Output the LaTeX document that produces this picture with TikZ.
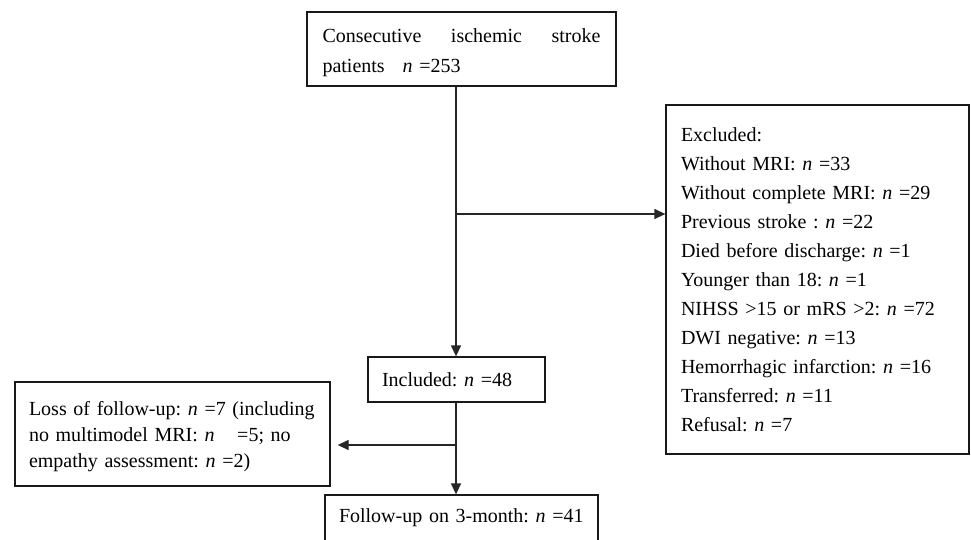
\documentclass[tikz,border=0pt]{standalone}
\usepackage{fontspec}
\setmainfont{Liberation Serif}
\usetikzlibrary{arrows.meta}
\frenchspacing
\hyphenpenalty=10000\relax
\exhyphenpenalty=10000\relax
\begin{document}
\begin{tikzpicture}[x=1pt,y=-1pt,
  box/.style={draw=black!90, line width=1.3pt, rectangle, inner xsep=0pt, inner ysep=0pt,
    font=\fontsize{20}{29}\selectfont, align=left},
  conn/.style={draw=black!85, line width=1.3pt},
  arr/.style={conn, -{Triangle[length=11pt,width=10pt]}}]
\useasboundingbox (0,0) rectangle (971,540);

\node[box, text width=278pt, minimum width=309pt, minimum height=74pt,
      font=\fontsize{20}{30}\selectfont] (top) at (461.5,49)
  {\rule{0pt}{22pt}Consecutive\hfill ischemic\hfill stroke\\patients\hspace{0.9em}\textit{n} =253};

\node[box, text width=273pt, minimum width=303pt, minimum height=349pt] (excl) at (817.5,279.5)
  {Excluded:\\
   Without MRI: \textit{n} =33\\
   Without complete MRI: \textit{n} =29\\
   Previous stroke : \textit{n} =22\\
   Died before discharge: \textit{n} =1\\
   Younger than 18: \textit{n} =1\\
   NIHSS >15 or mRS >2: \textit{n} =72\\
   DWI negative: \textit{n} =13\\
   Hemorrhagic infarction: \textit{n} =16\\
   Transferred: \textit{n} =11\\
   Refusal: \textit{n} =7\par\vspace{9pt}};

\node[box, text width=149pt, minimum width=177pt, minimum height=45pt] (inc) at (456.5,379.5)
  {Included: \textit{n} =48};

\node[box, text width=287pt, minimum width=315pt, minimum height=104pt,
      font=\fontsize{20}{26}\selectfont] (loss) at (172.5,434)
  {\rule{0pt}{20pt}Loss of follow-up: \textit{n} =7 (including\\
   no multimodel MRI: \textit{n}\hspace{0.8em} =5; no\\
   empathy assessment: \textit{n} =2)};

\node[box, text width=245pt, minimum width=273pt, minimum height=46pt] (fu) at (461.5,518)
  {Follow-up on 3-month: \textit{n} =41};

\coordinate (b1) at (456,214);
\coordinate (b2) at (456,445);

\draw[arr] (top.south -| b1) -- (inc.north -| b1);
\draw[arr] (b1) -- (excl.west |- b1);
\draw[arr] (inc.south -| b2) -- (fu.north -| b2);
\draw[arr, shorten >=7pt] (b2) -- (loss.east |- b2);
\end{tikzpicture}
\end{document}
